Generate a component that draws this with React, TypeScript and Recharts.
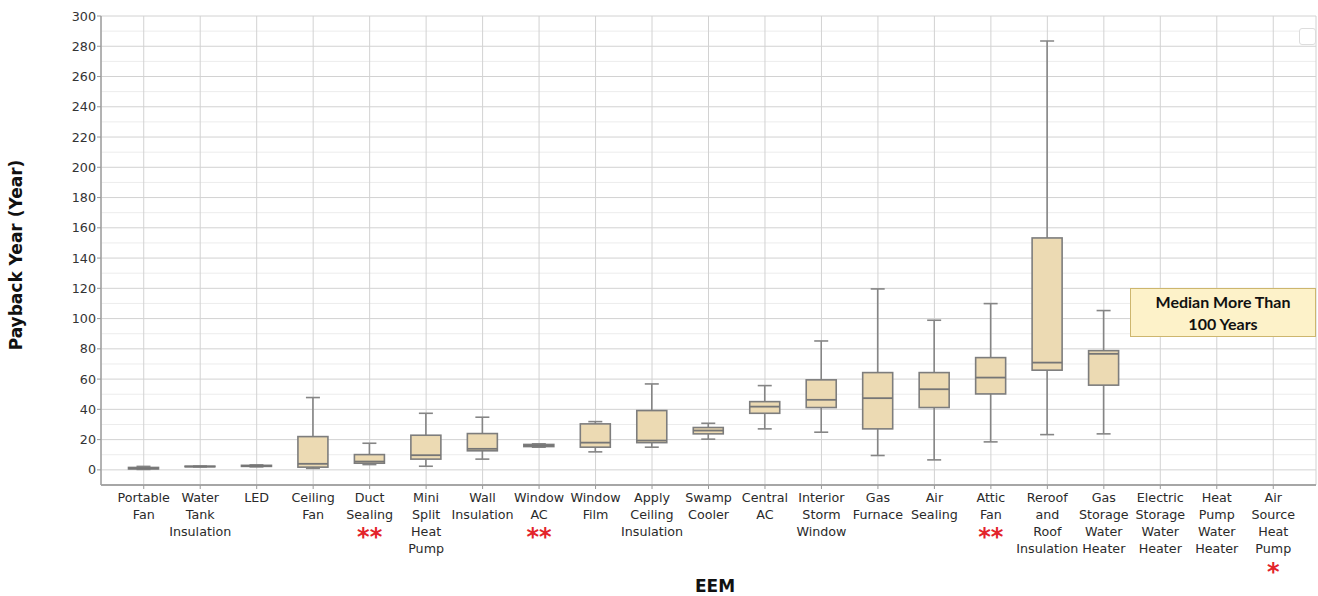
import { BarChart, Bar, XAxis, YAxis, CartesianGrid } from 'recharts'

const categories = [
  'Portable\nFan',
  'Water\nTank\nInsulation',
  'LED',
  'Ceiling\nFan',
  'Duct\nSealing',
  'Mini\nSplit\nHeat\nPump',
  'Wall\nInsulation',
  'Window\nAC',
  'Window\nFilm',
  'Apply\nCeiling\nInsulation',
  'Swamp\nCooler',
  'Central\nAC',
  'Interior\nStorm\nWindow',
  'Gas\nFurnace',
  'Air\nSealing',
  'Attic\nFan',
  'Reroof\nand\nRoof\nInsulation',
  'Gas\nStorage\nWater\nHeater',
  'Electric\nStorage\nWater\nHeater',
  'Heat\nPump\nWater\nHeater',
  'Air\nSource\nHeat\nPump',
]

// red asterisks under some labels
const marks = ['', '', '', '', '**', '', '', '**', '', '', '', '', '', '', '', '**', '', '', '', '', '*']

const mins = [0.3, 2.0, 2.0, 1.0, 3.5, 2.4, 7.1, 15.0, 11.9, 15.0, 20.3, 27.1, 24.9, 9.5, 6.6, 18.5, 23.3, 23.8, null, null, null]
const q1s = [0.6, 2.1, 2.3, 1.8, 4.4, 7.1, 12.6, 15.4, 15.0, 18.0, 23.8, 37.4, 41.2, 27.1, 41.2, 50.2, 65.9, 56.0, null, null, null]
const medians = [1.0, 2.2, 2.6, 4.0, 5.5, 9.7, 13.9, 16.0, 18.0, 19.4, 26.0, 41.8, 46.3, 47.4, 53.3, 61.0, 70.9, 76.7, null, null, null]
const q3s = [1.6, 2.4, 3.0, 22.0, 10.1, 22.9, 24.0, 16.8, 30.4, 39.2, 28.0, 45.1, 59.5, 64.3, 64.3, 74.2, 153.3, 78.8, null, null, null]
const maxs = [2.3, 2.5, 3.3, 47.8, 17.6, 37.4, 34.8, 17.2, 31.9, 56.8, 30.8, 55.7, 85.2, 119.6, 98.9, 109.9, 283.5, 105.3, null, null, null]

const yTicks = [0, 20, 40, 60, 80, 100, 120, 140, 160, 180, 200, 220, 240, 260, 280, 300]
const yMinor = [-10, 10, 30, 50, 70, 90, 110, 130, 150, 170, 190, 210, 230, 250, 270, 290]

const data = categories.map((name, i) => ({
  name,
  whisker: mins[i] == null ? null : [mins[i], maxs[i]],
  box: q1s[i] == null ? null : [q1s[i], q3s[i]],
  median: medians[i],
  q1: q1s[i],
  q3: q3s[i],
}))

const FONT = '"DejaVu Sans", sans-serif'
const LINE_H = 17.3

function EemTick(props: any) {
  const { x, y, payload } = props
  const idx = categories.indexOf(payload.value)
  const lines: string[] = payload.value.split('\n')
  const mark = marks[idx]
  return (
    <g>
      <text x={x} y={y} textAnchor="middle" fontFamily={FONT} fontSize={12.7} fill="#2a2a2a">
        {lines.map((l, k) => (
          <tspan key={k} x={x} dy={k === 0 ? 10.5 : LINE_H}>
            {l}
          </tspan>
        ))}
      </text>
      {mark && (
        <text
          x={x}
          y={y + 5.7 + lines.length * LINE_H + 14}
          textAnchor="middle"
          fontFamily={FONT}
          fontWeight="bold"
          fontSize={24}
          fill="#e3242b"
        >
          {mark}
        </text>
      )}
    </g>
  )
}

function WhiskerShape(props: any) {
  const { x, y, width, height, payload } = props
  if (!payload || payload.whisker == null) return <g />
  const cx = x + width / 2
  const top = Math.min(y, y + height)
  const bottom = Math.max(y, y + height)
  return (
    <g stroke="#858585" strokeWidth={1.6}>
      <line x1={cx} x2={cx} y1={top} y2={bottom} />
      <line x1={x} x2={x + width} y1={top} y2={top} />
      <line x1={x} x2={x + width} y1={bottom} y2={bottom} />
    </g>
  )
}

function BoxShape(props: any) {
  const { x, y, width, height, payload } = props
  if (!payload || payload.box == null) return <g />
  const top = Math.min(y, y + height)
  const h = Math.abs(height)
  const span = payload.q3 - payload.q1
  const medY = span > 0 ? top + (h * (payload.q3 - payload.median)) / span : top
  return (
    <g>
      <rect x={x} y={top} width={width} height={h} fill="#ecdab3" stroke="#7d7d7d" strokeWidth={1.6} />
      <line x1={x} x2={x + width} y1={medY} y2={medY} stroke="#767676" strokeWidth={1.8} />
    </g>
  )
}

export default function App() {
  return (
    <div style={{ position: 'absolute', left: 0, top: 0, width: 1318, height: 596, background: '#fff' }}>
      <BarChart
        width={1318}
        height={596}
        data={data}
        margin={{ top: 16, right: 2, left: 41, bottom: 21 }}
      >
        <CartesianGrid horizontalValues={yMinor} vertical={false} stroke="#ececec" strokeWidth={1} />
        <CartesianGrid stroke="#d2d2d2" strokeWidth={1} />
        <XAxis
          dataKey="name"
          interval={0}
          height={90}
          padding={{ left: 14.5, right: 14.5 }}
          tick={<EemTick />}
          tickSize={4}
          tickMargin={2}
          axisLine={{ stroke: '#a6a6a6', strokeWidth: 2 }}
          tickLine={{ stroke: '#999' }}
        />
        <XAxis xAxisId="box" dataKey="name" hide padding={{ left: 14.5, right: 14.5 }} />
        <YAxis
          type="number"
          domain={[-10, 300]}
          ticks={yTicks}
          interval={0}
          allowDataOverflow
          width={60}
          tickSize={4}
          tickMargin={1}
          tick={{ fill: '#333', fontSize: 12.7, fontFamily: FONT }}
          axisLine={{ stroke: '#a0a0a0', strokeWidth: 1.5 }}
          tickLine={{ stroke: '#999' }}
        />
        <Bar dataKey="whisker" barSize={14} shape={<WhiskerShape />} isAnimationActive={false} />
        <Bar xAxisId="box" dataKey="box" barSize={30} shape={<BoxShape />} isAnimationActive={false} />
      </BarChart>

      <div
        style={{
          position: 'absolute',
          left: 16,
          top: 255,
          transform: 'translate(-50%, -50%) rotate(-90deg)',
          whiteSpace: 'nowrap',
          fontFamily: FONT,
          fontWeight: 'bold',
          fontSize: 17,
          color: '#111',
        }}
      >
        Payback Year (Year)
      </div>

      <div
        style={{
          position: 'absolute',
          left: 715,
          top: 586,
          transform: 'translate(-50%, -50%)',
          whiteSpace: 'nowrap',
          fontFamily: FONT,
          fontWeight: 'bold',
          fontSize: 17,
          color: '#111',
        }}
      >
        EEM
      </div>

      <div
        style={{
          position: 'absolute',
          left: 1130,
          top: 288,
          width: 186,
          height: 49,
          boxSizing: 'border-box',
          background: '#fdf2c9',
          border: '1px solid #cdb66e',
          display: 'flex',
          flexDirection: 'column',
          alignItems: 'center',
          justifyContent: 'center',
          fontFamily: 'Lato, sans-serif',
          fontWeight: 'bold',
          fontSize: 16,
          lineHeight: '21.5px',
          color: '#111',
        }}
      >
        <span>Median More Than</span>
        <span>100 Years</span>
      </div>

      <div
        style={{
          position: 'absolute',
          left: 1299,
          top: 28,
          width: 17,
          height: 17,
          boxSizing: 'border-box',
          border: '1px solid #ddd',
          borderRadius: 3,
          background: '#fff',
        }}
      />
    </div>
  )
}
